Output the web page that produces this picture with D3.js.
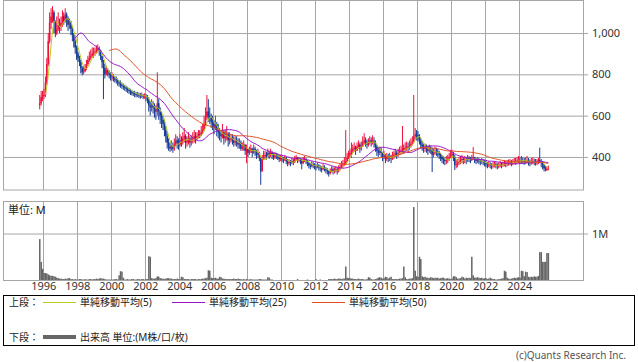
<!DOCTYPE html>
<html>
<head>
<meta charset="utf-8">
<script src="https://cdn.jsdelivr.net/npm/d3@7"></script>
<style>
  body { margin: 0; background: #fff; }
  text { font-family: "Noto Sans", "Noto Sans CJK JP", sans-serif; }
</style>
</head>
<body>
<div id="chart"></div>
<script>
// monthly bars, first one is Oct 1995
var firstMonth = [1995, 9];

var closes = [
  660, 690, 700,
  700, 760, 850, 960, 1050, 1080, 1100, 1060, 1000, 1020, 1040, 1030,
  1050, 1080, 1060, 1090, 1070, 1040, 1050, 1020, 990, 960, 930, 900,
  880, 860, 830, 810, 815, 830, 850, 870, 880, 890, 900, 905,
  910, 920, 925, 915, 890, 860, 830, 800, 820, 810, 800, 790,
  790, 780, 775, 770, 760, 755, 750, 745, 740, 735, 730, 725,
  720, 715, 712, 708, 705, 700, 702, 698, 695, 700, 692, 695,
  690, 680, 650, 640, 650, 640, 630, 620, 660, 620, 600, 580,
  560, 530, 500, 470, 450, 440, 450, 440, 460, 480, 470, 460,
  480, 470, 490, 500, 470, 480, 490, 470, 480, 490, 500, 490,
  500, 510, 505, 520, 530, 560, 590, 620, 600, 590, 570, 560,
  540, 560, 530, 520, 510, 500, 520, 490, 500, 510, 480, 490,
  490, 480, 470, 480, 470, 460, 470, 440, 450, 460, 430, 440,
  420, 430, 440, 420, 440, 430, 410, 420, 400, 330, 390, 410,
  410, 400, 420, 410, 420, 410, 400, 410, 405, 400, 390, 395,
  390, 385, 395, 380, 370, 375, 370, 380, 375, 390, 395, 385,
  390, 380, 370, 385, 390, 380, 370, 360, 355, 365, 360, 355,
  350, 360, 350, 345, 340, 350, 345, 335, 330, 320, 330, 340,
  330, 335, 340, 330, 345, 350, 360, 365, 370, 380, 395, 410,
  420, 430, 440, 445, 430, 450, 460, 440, 450, 470, 480, 470,
  460, 470, 480, 470, 480, 470, 450, 430, 420, 430, 420, 400,
  410, 390, 400, 395, 400, 390, 405, 410, 420, 410, 420, 430,
  430, 440, 435, 445, 450, 445, 455, 465, 475, 500, 510, 505,
  500, 480, 460, 450, 440, 445, 440, 430, 440, 435, 410, 420,
  430, 425, 420, 410, 400, 390, 385, 380, 385, 390, 400, 415,
  415, 400, 360, 365, 370, 380, 385, 390, 385, 390, 385, 395,
  390, 385, 395, 400, 385, 380, 385, 380, 375, 380, 375, 370,
  365, 360, 365, 360, 355, 360, 365, 360, 355, 360, 365, 360,
  365, 370, 365, 370, 372, 375, 370, 375, 380, 378, 382, 385,
  380, 385, 382, 378, 380, 385, 375, 370, 378, 380, 375, 372,
  375, 385, 375, 370, 360, 345, 340, 342, 345
];

var highs = [
  700, 720, 720,
  730, 790, 880, 1000, 1100, 1120, 1130, 1110, 1060, 1080, 1100, 1070,
  1080, 1110, 1100, 1120, 1100, 1080, 1070, 1060, 1030, 1000, 970, 940,
  910, 890, 870, 840, 840, 850, 870, 890, 910, 920, 930, 930,
  930, 940, 945, 935, 920, 890, 870, 850, 840, 830, 820, 810,
  810, 800, 790, 790, 780, 770, 770, 760, 755, 750, 745, 740,
  735, 730, 725, 720, 720, 715, 715, 712, 710, 712, 705, 708,
  705, 700, 690, 670, 680, 670, 660, 650, 810, 680, 640, 620,
  600, 580, 550, 520, 490, 470, 480, 470, 490, 510, 500, 490,
  510, 500, 520, 540, 510, 500, 520, 500, 505, 520, 530, 520,
  520, 530, 530, 550, 560, 600, 640, 700, 680, 640, 610, 600,
  580, 600, 570, 560, 540, 530, 560, 530, 530, 550, 520, 520,
  510, 510, 500, 500, 500, 490, 490, 480, 470, 480, 460, 460,
  440, 450, 460, 445, 460, 450, 435, 440, 425, 400, 410, 430,
  430, 425, 440, 430, 440, 430, 420, 425, 420, 415, 410, 410,
  405, 400, 410, 400, 390, 390, 385, 395, 390, 405, 410, 400,
  400, 395, 390, 400, 405, 395, 385, 375, 370, 380, 375, 370,
  365, 375, 365, 360, 355, 365, 360, 350, 345, 335, 345, 355,
  350, 350, 355, 350, 360, 370, 380, 385, 400, 530, 420, 430,
  440, 470, 460, 470, 455, 470, 480, 470, 475, 500, 515, 495,
  485, 490, 500, 495, 505, 495, 480, 460, 445, 450, 445, 425,
  430, 415, 420, 415, 420, 410, 425, 430, 440, 430, 440, 450,
  455, 550, 460, 470, 475, 470, 480, 490, 500, 700, 540, 530,
  525, 510, 490, 475, 465, 465, 460, 455, 460, 455, 445, 440,
  450, 445, 440, 430, 420, 410, 405, 400, 405, 410, 420, 435,
  435, 425, 410, 385, 390, 400, 405, 410, 400, 405, 400, 410,
  405, 400, 410, 448, 400, 395, 400, 395, 390, 395, 390, 385,
  380, 375, 380, 375, 370, 375, 380, 375, 370, 375, 380, 375,
  378, 385, 380, 385, 388, 390, 385, 390, 395, 395, 400, 405,
  400, 405, 398, 395, 398, 405, 395, 388, 395, 398, 392, 390,
  390, 395, 445, 390, 380, 365, 355, 355, 358
];

var lows = [
  630, 650, 670,
  680, 690, 750, 840, 950, 1020, 1050, 1000, 980, 990, 1010, 1000,
  1010, 1030, 1040, 1050, 1030, 1010, 1020, 990, 960, 930, 900, 870,
  860, 840, 805, 795, 800, 810, 820, 840, 860, 870, 880, 880,
  890, 900, 905, 890, 870, 830, 680, 780, 795, 790, 780, 770,
  770, 765, 760, 755, 745, 740, 735, 730, 725, 720, 715, 710,
  705, 700, 698, 695, 690, 688, 690, 685, 682, 685, 680, 682,
  670, 660, 620, 600, 620, 610, 590, 580, 600, 580, 560, 540,
  530, 500, 470, 440, 430, 425, 430, 420, 430, 450, 440, 435,
  450, 450, 460, 470, 440, 450, 460, 445, 455, 465, 470, 465,
  480, 490, 490, 500, 510, 525, 550, 580, 570, 560, 540, 530,
  510, 530, 500, 490, 480, 470, 490, 460, 470, 480, 450, 460,
  470, 460, 450, 455, 450, 440, 440, 430, 430, 430, 410, 370,
  400, 410, 420, 400, 415, 405, 390, 395, 380, 265, 330, 385,
  390, 385, 395, 390, 400, 390, 385, 390, 390, 385, 375, 380,
  375, 370, 380, 365, 355, 360, 355, 365, 360, 370, 380, 370,
  375, 365, 340, 365, 375, 365, 355, 345, 340, 350, 345, 340,
  335, 345, 335, 330, 325, 335, 330, 320, 315, 305, 315, 325,
  315, 320, 325, 315, 325, 335, 345, 350, 355, 360, 375, 390,
  400, 395, 420, 425, 410, 430, 440, 420, 430, 450, 460, 450,
  440, 450, 460, 450, 460, 445, 425, 405, 400, 410, 400, 380,
  390, 370, 380, 375, 380, 370, 385, 390, 400, 390, 400, 410,
  410, 420, 415, 425, 430, 425, 435, 445, 455, 470, 485, 480,
  475, 460, 440, 430, 420, 425, 420, 410, 420, 415, 327, 400,
  410, 405, 400, 390, 380, 370, 365, 360, 365, 370, 380, 395,
  395, 380, 337, 345, 350, 360, 365, 370, 365, 370, 365, 375,
  375, 370, 380, 385, 370, 365, 370, 365, 360, 365, 360, 355,
  350, 345, 350, 345, 340, 345, 350, 345, 340, 345, 350, 345,
  352, 355, 350, 355, 358, 360, 355, 360, 365, 362, 368, 370,
  365, 368, 365, 362, 365, 368, 358, 355, 362, 365, 360, 358,
  360, 365, 370, 350, 340, 330, 330, 332, 335
];

// volume, millions
var volumes = [
  0.88, 0.39, 0.24,
  0.15, 0.15, 0.14, 0.12, 0.10, 0.09, 0.09, 0.08, 0.07, 0.05, 0.04, 0.03,
  0.03, 0.02, 0.02, 0.03, 0.02, 0.04, 0.04, 0.02, 0.02, 0.01, 0.02, 0.01,
  0.01, 0.02, 0.02, 0.01, 0.01, 0.02, 0.01, 0.01, 0.02, 0.02, 0.01, 0.02,
  0.02, 0.03, 0.02, 0.03, 0.04, 0.03, 0.03, 0.02, 0.01, 0.01, 0.01, 0.01,
  0.01, 0.01, 0.02, 0.02, 0.01, 0.10, 0.19, 0.18, 0.05, 0.01, 0.01, 0.02,
  0.01, 0.01, 0.02, 0.02, 0.01, 0.01, 0.02, 0.02, 0.01, 0.02, 0.02, 0.01,
  0.02, 0.02, 0.51, 0.50, 0.04, 0.03, 0.03, 0.04, 0.08, 0.07, 0.04, 0.03,
  0.03, 0.02, 0.03, 0.04, 0.04, 0.03, 0.03, 0.02, 0.02, 0.02, 0.03, 0.02,
  0.02, 0.07, 0.06, 0.02, 0.02, 0.02, 0.02, 0.01, 0.02, 0.02, 0.02, 0.02,
  0.01, 0.02, 0.02, 0.02, 0.03, 0.03, 0.04, 0.05, 0.21, 0.20, 0.05, 0.04,
  0.04, 0.05, 0.03, 0.03, 0.07, 0.06, 0.03, 0.03, 0.02, 0.02, 0.02, 0.02,
  0.02, 0.02, 0.03, 0.02, 0.02, 0.03, 0.02, 0.02, 0.01, 0.02, 0.01, 0.02,
  0.01, 0.01, 0.02, 0.01, 0.01, 0.01, 0.01, 0.01, 0.02, 0.02, 0.01, 0.01,
  0.01, 0.01, 0.06, 0.05, 0.01, 0.01, 0.00, 0.00, 0.00, 0.00, 0.00, 0.00,
  0.00, 0.00, 0.00, 0.00, 0.00, 0.00, 0.00, 0.00, 0.00, 0.00, 0.00, 0.02,
  0.00, 0.00, 0.00, 0.00, 0.00, 0.00, 0.01, 0.00, 0.00, 0.00, 0.00, 0.00,
  0.02, 0.00, 0.00, 0.01, 0.00, 0.00, 0.00, 0.00, 0.00, 0.02, 0.02, 0.02,
  0.02, 0.03, 0.02, 0.02, 0.03, 0.03, 0.02, 0.03, 0.03, 0.29, 0.05, 0.04,
  0.04, 0.03, 0.03, 0.02, 0.02, 0.02, 0.03, 0.02, 0.02, 0.02, 0.01, 0.01,
  0.02, 0.06, 0.05, 0.02, 0.01, 0.01, 0.02, 0.03, 0.05, 0.06, 0.05, 0.03,
  0.04, 0.07, 0.06, 0.03, 0.05, 0.07, 0.02, 0.02, 0.02, 0.02, 0.02, 0.03,
  0.03, 0.04, 0.29, 0.06, 0.02, 0.02, 0.03, 0.03, 0.04, 1.57, 0.20, 0.08,
  0.07, 0.50, 0.45, 0.08, 0.06, 0.07, 0.05, 0.05, 0.04, 0.06, 0.05, 0.04,
  0.05, 0.04, 0.05, 0.03, 0.04, 0.05, 0.05, 0.03, 0.03, 0.04, 0.03, 0.02,
  0.03, 0.08, 0.08, 0.06, 0.03, 0.03, 0.04, 0.07, 0.06, 0.03, 0.05, 0.04,
  0.05, 0.04, 0.50, 0.10, 0.05, 0.05, 0.06, 0.05, 0.04, 0.05, 0.03, 0.04,
  0.04, 0.02, 0.03, 0.05, 0.03, 0.02, 0.02, 0.01, 0.01, 0.02, 0.02, 0.03,
  0.04, 0.20, 0.18, 0.05, 0.03, 0.02, 0.03, 0.04, 0.05, 0.04, 0.05, 0.06,
  0.05, 0.20, 0.19, 0.08, 0.18, 0.17, 0.07, 0.06, 0.07, 0.06, 0.08, 0.07,
  0.07, 0.09, 0.60, 0.60, 0.39, 0.39, 0.39, 0.58, 0.58
];

var yearTicks = [1996, 1998, 2000, 2002, 2004, 2006, 2008, 2010, 2012, 2014, 2016, 2018, 2020, 2022, 2024];
var priceTicks = [400, 600, 800, 1000];
var volumeTicks = [1];
var maPeriods = [5, 25, 50];
var maColors = ["#b9cc1e", "#9b14c8", "#e0501e"];
var legendLabels = ["単純移動平均(5)", "単純移動平均(25)", "単純移動平均(50)"];

function drawChart() {
    var w = 638;
    var h = 362;
    var left = 3, right = 583;
    var upTop = 1, upBottom = 190;
    var loTop = 201, loBottom = 280;

    var svg = d3.select("#chart")
            .append("svg")
            .attr("width", w)
            .attr("height", h);

    var bars = closes.map(function (c, i) {
        return {
            date: new Date(firstMonth[0], firstMonth[1] + i, 1),
            open: i == 0 ? 650 : closes[i - 1],
            high: highs[i],
            low: lows[i],
            close: c,
            volume: volumes[i]
        };
    });

    var x = d3.scaleTime()
            .domain([new Date(1993, 7, 18), new Date(2027, 9, 1)])
            .range([left, right]);
    var y = d3.scaleLinear().domain([240, 1160]).range([upBottom, 0]);
    var yv = d3.scaleLinear().domain([0, 1.7]).range([loBottom, loTop]);

    var yearDates = yearTicks.map(function (d) { return new Date(d, 0, 1); });
    var gridColor = "#a6a6a6";

    // upper grid + right axis
    svg.append("g")
        .attr("transform", "translate(" + right + ",0)")
        .call(d3.axisRight(y).tickValues(priceTicks).tickSize(5).tickPadding(4).tickFormat(d3.format(",")))
        .call(function (g) {
            g.select(".domain").remove();
            g.selectAll("line").attr("stroke", gridColor).attr("x1", left - right);
            g.selectAll("text").attr("font-size", 11).attr("fill", "#333");
        });
    svg.append("g")
        .selectAll("line")
        .data(yearDates)
        .enter()
        .append("line")
        .attr("x1", function (d) { return Math.round(x(d)) + 0.5; })
        .attr("x2", function (d) { return Math.round(x(d)) + 0.5; })
        .attr("y1", upTop)
        .attr("y2", upBottom)
        .attr("stroke", gridColor);

    // lower grid + axis
    svg.append("g")
        .attr("transform", "translate(" + right + ",0)")
        .call(d3.axisRight(yv).tickValues(volumeTicks).tickSize(5).tickPadding(4).tickFormat(function (d) { return d + "M"; }))
        .call(function (g) {
            g.select(".domain").remove();
            g.selectAll("line").attr("stroke", gridColor).attr("x1", left - right);
            g.selectAll("text").attr("font-size", 11).attr("fill", "#333");
        });
    svg.append("g")
        .selectAll("line")
        .data(yearDates)
        .enter()
        .append("line")
        .attr("x1", function (d) { return Math.round(x(d)) + 0.5; })
        .attr("x2", function (d) { return Math.round(x(d)) + 0.5; })
        .attr("y1", loTop)
        .attr("y2", loBottom)
        .attr("stroke", gridColor);

    // year labels
    svg.append("g")
        .attr("transform", "translate(0," + loBottom + ")")
        .call(d3.axisBottom(x).tickValues(yearDates).tickSize(0).tickPadding(2).tickFormat(d3.timeFormat("%Y")))
        .call(function (g) {
            g.select(".domain").remove();
            g.selectAll("text").attr("font-size", 11).attr("fill", "#333");
        });

    svg.append("defs").append("clipPath").attr("id", "clipUp")
        .append("rect").attr("x", left).attr("y", upTop).attr("width", right - left).attr("height", upBottom - upTop);

    var bw = 1.6;
    var plot = svg.append("g").attr("clip-path", "url(#clipUp)");

    // volume bars
    svg.append("g")
        .selectAll("rect")
        .data(bars)
        .enter()
        .append("rect")
        .attr("x", function (d) { return x(d.date); })
        .attr("y", function (d) { return yv(d.volume); })
        .attr("width", 1.5)
        .attr("height", function (d) { return loBottom - yv(d.volume); })
        .attr("fill", "#666");

    // candles
    var candle = plot.selectAll("g.c")
        .data(bars)
        .enter()
        .append("g")
        .attr("class", "c");
    candle.append("line")
        .attr("x1", function (d) { return x(d.date) + 0.7; })
        .attr("x2", function (d) { return x(d.date) + 0.7; })
        .attr("y1", function (d) { return y(d.high); })
        .attr("y2", function (d) { return y(d.low); })
        .attr("stroke-width", 1)
        .attr("stroke", function (d) { return d.close >= d.open ? "#f0103c" : "#143c96"; });
    candle.append("rect")
        .attr("x", function (d) { return x(d.date) + 0.7 - bw / 2; })
        .attr("y", function (d) { return y(Math.max(d.open, d.close)); })
        .attr("width", bw)
        .attr("height", function (d) { return Math.max(1, Math.abs(y(d.open) - y(d.close))); })
        .attr("fill", function (d) { return d.close >= d.open ? "#f0103c" : "#143c96"; });

    // moving averages
    maPeriods.forEach(function (p, k) {
        var pts = [];
        for (var i = p - 1; i < bars.length; i++) {
            pts.push({ date: bars[i].date, v: d3.mean(closes.slice(i - p + 1, i + 1)) });
        }
        plot.append("path")
            .datum(pts)
            .attr("fill", "none")
            .attr("stroke", maColors[k])
            .attr("stroke-width", 1)
            .attr("d", d3.line()
                .x(function (d) { return x(d.date) + 0.7; })
                .y(function (d) { return y(d.v); }));
    });

    // panel borders
    svg.append("rect").attr("x", left + 0.5).attr("y", upTop - 0.5).attr("width", right - left).attr("height", upBottom - upTop + 0.5)
        .attr("fill", "none").attr("stroke", gridColor);
    svg.append("rect").attr("x", left + 0.5).attr("y", loTop + 0.5).attr("width", right - left).attr("height", loBottom - loTop)
        .attr("fill", "none").attr("stroke", gridColor);

    svg.append("text").attr("x", 8).attr("y", 214).attr("font-size", 11).attr("fill", "#222")
        .text("単位: M");

    // legend box
    svg.append("rect").attr("x", 3.5).attr("y", 295.5).attr("width", 631).attr("height", 50)
        .attr("fill", "none").attr("stroke", "#000");
    svg.append("text").attr("x", 9).attr("y", 306).attr("font-size", 10).attr("fill", "#222").text("上段：");
    var legX = [43, 172, 312];
    legendLabels.forEach(function (t, k) {
        svg.append("line").attr("x1", legX[k]).attr("x2", legX[k] + 33).attr("y1", 302.5).attr("y2", 302.5)
            .attr("stroke", maColors[k]).attr("stroke-width", 1.2);
        svg.append("text").attr("x", legX[k] + 37).attr("y", 306).attr("font-size", 10).attr("fill", "#222").text(t);
    });
    svg.append("text").attr("x", 9).attr("y", 341).attr("font-size", 10).attr("fill", "#222").text("下段：");
    svg.append("line").attr("x1", 43).attr("x2", 76).attr("y1", 337).attr("y2", 337)
        .attr("stroke", "#666").attr("stroke-width", 4);
    svg.append("text").attr("x", 80).attr("y", 341).attr("font-size", 10).attr("fill", "#222").text("出来高 単位:(M株/口/枚)");

    svg.append("text").attr("x", 626).attr("y", 359).attr("text-anchor", "end").attr("font-size", 10).attr("fill", "#555")
        .text("(c)Quants Research Inc.");
}

window.onload = drawChart;
</script>
</body>
</html>
